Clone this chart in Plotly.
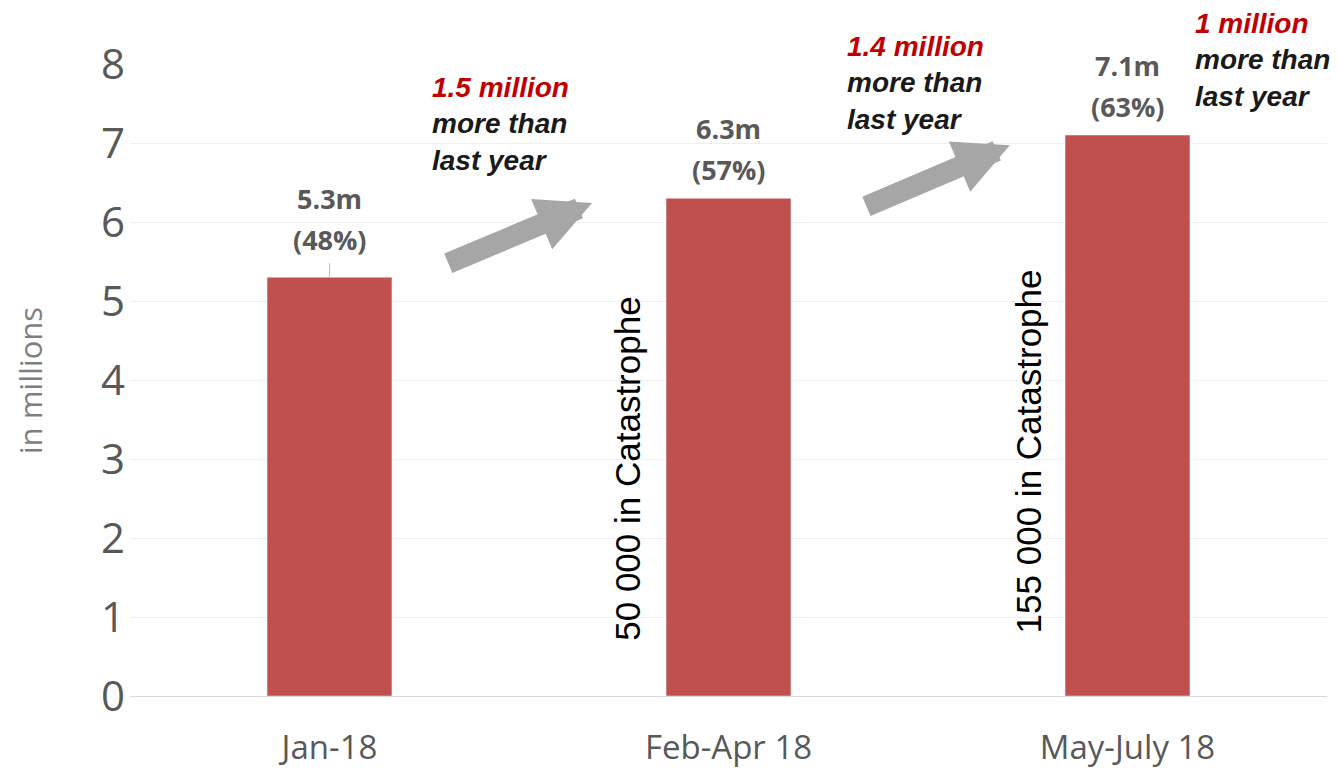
import plotly.graph_objects as go

categories = ["Jan-18", "Feb-Apr 18", "May-July 18"]
values = [5.3, 6.3, 7.1]
value_labels = ["5.3m", "6.3m", "7.1m"]
pct_labels = ["(48%)", "(57%)", "(63%)"]
catastrophe_labels = ["", "50 000 in Catastrophe", "155 000 in Catastrophe"]
increase_amounts = ["1.5 million", "1.4 million", "1 million"]
y_ticks = [0, 1, 2, 3, 4, 5, 6, 7, 8]

BAR_COLOR = "#c0504d"
GRAY_TEXT = "#595959"
RED = "#c00000"
ARROW_GRAY = "#a6a6a6"

fig = go.Figure()
fig.add_trace(go.Bar(
    x=categories, y=values, marker_color=BAR_COLOR, width=0.313,
    hoverinfo="x+y", showlegend=False,
))

ann = []
# value / percent labels above bars
extra = [9, 0, 0]
for i, (v, vl, pl) in enumerate(zip(values, value_labels, pct_labels)):
    ann.append(dict(x=i, y=v, text=f"<b>{vl}</b>", showarrow=False, xref="x", yref="y",
                    yanchor="middle", yshift=70 + extra[i],
                    font=dict(family="Open Sans", size=27, color=GRAY_TEXT)))
    ann.append(dict(x=i, y=v, text=f"<b>{pl}</b>", showarrow=False, xref="x", yref="y",
                    yanchor="middle", yshift=29 + extra[i],
                    font=dict(family="Open Sans", size=27, color=GRAY_TEXT)))

# vertical catastrophe labels
cat_pos = [None, (2.87, -101), (3.09, -99)]
for i, t in enumerate(catastrophe_labels):
    if t:
        cy, xs = cat_pos[i]
        ann.append(dict(x=i, y=cy, text=t, showarrow=False, textangle=-90,
                        xref="x", yref="y", xshift=xs,
                        font=dict(family="Liberation Sans, Arial", size=35, color="#000000")))

# increase text blocks (x in category units, y in paper units)
block_pos = [(0.252, 0.905), (1.293, 0.970), (2.165, 1.006)]
for amt, (bx, by) in zip(increase_amounts, block_pos):
    ann.append(dict(x=bx, y=by, xref="x", yref="paper", xanchor="left", yanchor="middle",
                    align="left", showarrow=False,
                    text=f"<b><i><span style='color:{RED}'>{amt}</span><br>more than<br>last year</i></b>",
                    font=dict(family="Liberation Sans, Arial", size=28, color="#1a1a1a")))

# arrows between bars
arrows = [((0.658, 6.24), (0.294, 5.47)), ((1.705, 6.97), (1.342, 6.19))]
for (hx, hy), (tx, ty) in arrows:
    ann.append(dict(x=hx, y=hy, ax=tx, ay=ty, xref="x", yref="y", axref="x", ayref="y",
                    text="", showarrow=True, arrowhead=2, arrowsize=0.52, arrowwidth=21,
                    arrowcolor=ARROW_GRAY, standoff=0, startstandoff=0))

# small leader line on first label
ann.append(dict(x=0, y=5.3, ax=0, ay=5.5, xref="x", yref="y", axref="x", ayref="y",
                text="", showarrow=True, arrowhead=0, arrowwidth=1, arrowcolor="#bfbfbf"))

# y axis title
ann.append(dict(x=0, y=0.498, xref="paper", yref="paper", xanchor="center", yanchor="middle",
                xshift=-100, text="in millions", textangle=-90, showarrow=False,
                font=dict(family="Open Sans", size=31, color="#7f7f7f")))

fig.update_layout(
    width=1340, height=773,
    margin=dict(l=122, r=21, t=56, b=85),
    paper_bgcolor="white", plot_bgcolor="white",
    annotations=ann,
    bargap=0.687,
    xaxis=dict(tickfont=dict(family="Open Sans", size=33, color=GRAY_TEXT),
               showgrid=False, showline=False, ticks="", ticklabelstandoff=29,
               automargin=False, range=[-0.5, 2.5]),
    yaxis=dict(range=[0, 8], tickvals=y_ticks, showgrid=True, gridcolor="#efefef",
               gridwidth=1, zeroline=True, zerolinecolor="#d9d9d9", zerolinewidth=1,
               tickfont=dict(family="Open Sans", size=42, color=GRAY_TEXT),
               ticks="", showline=False, ticklabelstandoff=4, automargin=False),
)

fig.write_html("out.html")
